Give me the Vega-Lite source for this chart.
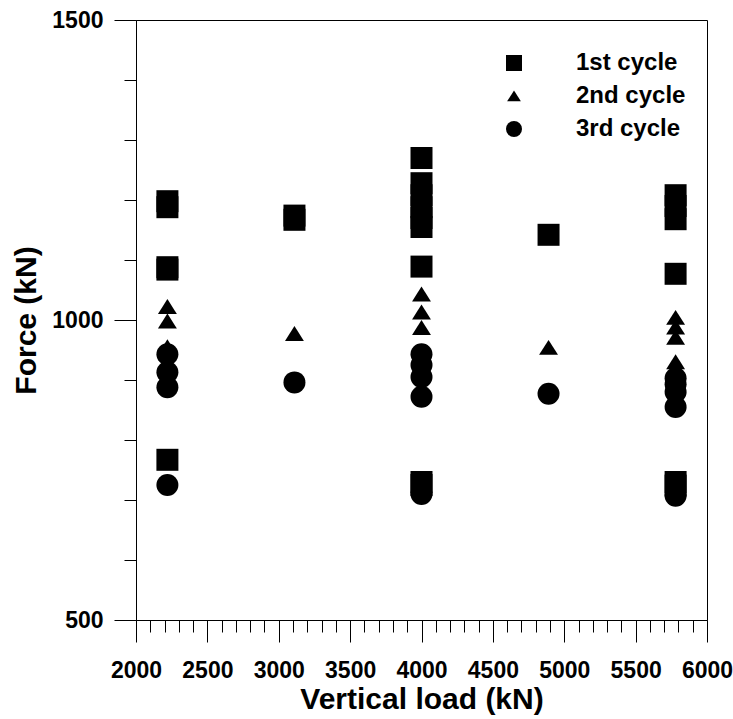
{
  "$schema": "https://vega.github.io/schema/vega-lite/v6.json",
  "width": 571,
  "height": 600,
  "autosize": {"type": "none"},
  "padding": {"left": 136, "top": 20, "right": 26, "bottom": 99},
  "background": "white",
  "config": {
    "view": {"stroke": "black", "strokeWidth": 1},
    "font": "Liberation Sans",
    "axis": {
      "grid": false,
      "domainColor": "black",
      "domainWidth": 1,
      "tickColor": "black",
      "tickWidth": 1,
      "labelColor": "black",
      "labelFontWeight": "bold",
      "labelFontSize": 23,
      "labelOverlap": false,
      "labelFlush": false,
      "titleColor": "black",
      "titleFontWeight": "bold",
      "titleFontSize": 30,
      "format": "d"
    }
  },
  "data": {
    "values": [
      {"load": 2220, "force": 1198, "cycle": "1st cycle"},
      {"load": 2220, "force": 1188, "cycle": "1st cycle"},
      {"load": 2220, "force": 1088, "cycle": "1st cycle"},
      {"load": 2220, "force": 1084, "cycle": "1st cycle"},
      {"load": 2220, "force": 767, "cycle": "1st cycle"},
      {"load": 3110, "force": 1174, "cycle": "1st cycle"},
      {"load": 3110, "force": 1167, "cycle": "1st cycle"},
      {"load": 4000, "force": 1270, "cycle": "1st cycle"},
      {"load": 4000, "force": 1228, "cycle": "1st cycle"},
      {"load": 4000, "force": 1208, "cycle": "1st cycle"},
      {"load": 4000, "force": 1188, "cycle": "1st cycle"},
      {"load": 4000, "force": 1170, "cycle": "1st cycle"},
      {"load": 4000, "force": 1155, "cycle": "1st cycle"},
      {"load": 4000, "force": 1089, "cycle": "1st cycle"},
      {"load": 4000, "force": 730, "cycle": "1st cycle"},
      {"load": 4000, "force": 725, "cycle": "1st cycle"},
      {"load": 4890, "force": 1142, "cycle": "1st cycle"},
      {"load": 5780, "force": 1208, "cycle": "1st cycle"},
      {"load": 5780, "force": 1190, "cycle": "1st cycle"},
      {"load": 5780, "force": 1168, "cycle": "1st cycle"},
      {"load": 5780, "force": 1077, "cycle": "1st cycle"},
      {"load": 5780, "force": 730, "cycle": "1st cycle"},
      {"load": 5780, "force": 724, "cycle": "1st cycle"},
      {"load": 2220, "force": 1022, "cycle": "2nd cycle"},
      {"load": 2220, "force": 998, "cycle": "2nd cycle"},
      {"load": 2220, "force": 955, "cycle": "2nd cycle"},
      {"load": 3110, "force": 977, "cycle": "2nd cycle"},
      {"load": 4000, "force": 1043, "cycle": "2nd cycle"},
      {"load": 4000, "force": 1013, "cycle": "2nd cycle"},
      {"load": 4000, "force": 987, "cycle": "2nd cycle"},
      {"load": 4890, "force": 954, "cycle": "2nd cycle"},
      {"load": 5780, "force": 1004, "cycle": "2nd cycle"},
      {"load": 5780, "force": 988, "cycle": "2nd cycle"},
      {"load": 5780, "force": 971, "cycle": "2nd cycle"},
      {"load": 5780, "force": 930, "cycle": "2nd cycle"},
      {"load": 2220, "force": 943, "cycle": "3rd cycle"},
      {"load": 2220, "force": 913, "cycle": "3rd cycle"},
      {"load": 2220, "force": 888, "cycle": "3rd cycle"},
      {"load": 2220, "force": 725, "cycle": "3rd cycle"},
      {"load": 3110, "force": 896, "cycle": "3rd cycle"},
      {"load": 4000, "force": 943, "cycle": "3rd cycle"},
      {"load": 4000, "force": 925, "cycle": "3rd cycle"},
      {"load": 4000, "force": 905, "cycle": "3rd cycle"},
      {"load": 4000, "force": 872, "cycle": "3rd cycle"},
      {"load": 4000, "force": 710, "cycle": "3rd cycle"},
      {"load": 4890, "force": 877, "cycle": "3rd cycle"},
      {"load": 5780, "force": 903, "cycle": "3rd cycle"},
      {"load": 5780, "force": 893, "cycle": "3rd cycle"},
      {"load": 5780, "force": 880, "cycle": "3rd cycle"},
      {"load": 5780, "force": 855, "cycle": "3rd cycle"},
      {"load": 5780, "force": 707, "cycle": "3rd cycle"}
    ]
  },
  "mark": {"type": "point", "filled": true, "color": "black", "opacity": 1, "size": 484, "strokeWidth": 0},
  "encoding": {
    "x": {
      "field": "load",
      "type": "quantitative",
      "scale": {"domain": [2000, 6000], "nice": false, "zero": false},
      "axis": {
        "title": "Vertical load (kN)",
        "values": [2000, 2100, 2200, 2300, 2400, 2500, 2600, 2700, 2800, 2900, 3000, 3100, 3200, 3300, 3400, 3500, 3600, 3700, 3800, 3900, 4000, 4100, 4200, 4300, 4400, 4500, 4600, 4700, 4800, 4900, 5000, 5100, 5200, 5300, 5400, 5500, 5600, 5700, 5800, 5900, 6000],
        "tickSize": {"condition": {"test": "datum.value % 500 === 0", "value": 22}, "value": 12},
        "labelExpr": "datum.value % 500 === 0 ? datum.label : ''",
        "labelPadding": 17,
        "titlePadding": 2
      }
    },
    "y": {
      "field": "force",
      "type": "quantitative",
      "scale": {"domain": [500, 1500], "nice": false, "zero": false},
      "axis": {
        "title": "Force (kN)",
        "values": [500, 600, 700, 800, 900, 1000, 1100, 1200, 1300, 1400, 1500],
        "tickSize": {"condition": {"test": "datum.value % 500 === 0", "value": 22}, "value": 12},
        "labelExpr": "datum.value % 500 === 0 ? datum.label : ''",
        "labelPadding": 11,
        "titlePadding": 10
      }
    },
    "shape": {
      "field": "cycle",
      "type": "nominal",
      "scale": {
        "domain": ["1st cycle", "2nd cycle", "3rd cycle"],
        "range": ["square", "M0,-0.7L0.86,0.66L-0.86,0.66Z", "circle"]
      },
      "legend": {
        "orient": "none",
        "legendX": 366,
        "legendY": 31,
        "title": null,
        "padding": 0,
        "symbolSize": 256,
        "symbolFillColor": "black",
        "symbolStrokeWidth": 0,
        "symbolOpacity": 1,
        "labelFontSize": 24,
        "labelFontWeight": "bold",
        "labelColor": "black",
        "labelOffset": 50,
        "rowPadding": 9
      }
    }
  }
}
